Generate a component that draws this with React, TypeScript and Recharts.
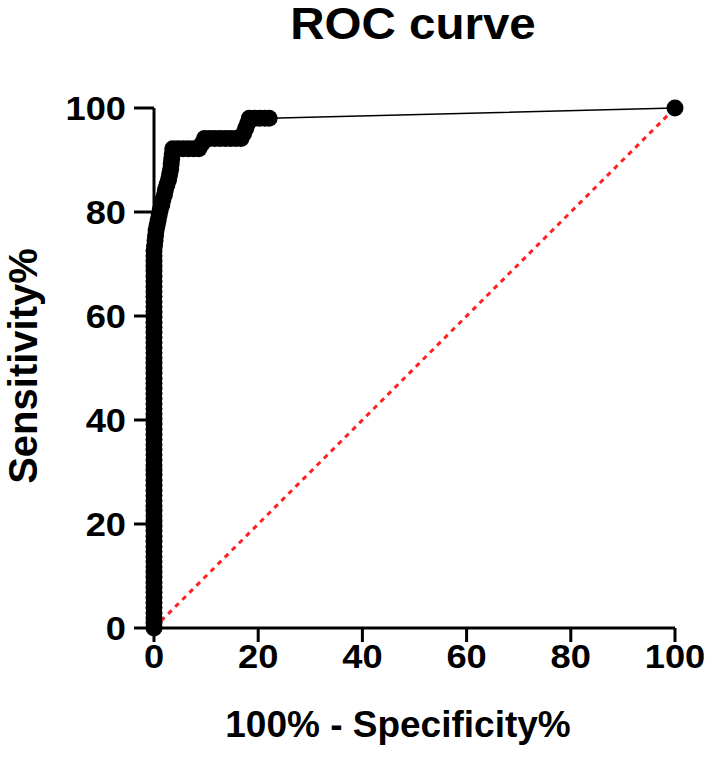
import React from 'react';
import {
  ComposedChart,
  Line,
  XAxis,
  YAxis,
  ReferenceLine,
  Label,
} from 'recharts';

// 100% - Specificity% for every threshold
const fprValues: number[] = [
  0, 0, 0, 0, 0, 0, 0, 0, 0, 0,
  0, 0, 0, 0, 0, 0, 0, 0, 0, 0,
  0, 0, 0, 0, 0, 0, 0, 0, 0, 0,
  0, 0, 0, 0, 0, 0, 0, 0, 0, 0,
  0, 0, 0, 0, 0, 0, 0, 0, 0, 0,
  0, 0, 0, 0, 0, 0, 0, 0, 0, 0,
  0, 0, 0, 0, 0, 0, 0, 0, 0, 0,
  0, 0, 0, 0, 0,
  0.1, 0.2, 0.3, 0.4, 0.6, 0.8, 1.0, 1.2, 1.5, 1.7,
  2.0, 2.2, 2.5, 2.8, 3.0, 3.2, 3.3, 3.4, 3.5,
  3.6, 4.6, 5.6, 6.6, 7.6, 8.6,
  9.2,
  9.7, 10.7, 11.7, 12.7, 13.7, 14.7, 15.7, 16.7,
  17.2, 17.6, 18.0,
  18.3, 19.3, 20.3, 21.3, 22.1,
  100,
];

// Sensitivity% for the same thresholds
const sensValues: number[] = [
  0, 0.98, 1.96, 2.94, 3.92, 4.9, 5.88, 6.86, 7.84, 8.82,
  9.8, 10.78, 11.76, 12.75, 13.73, 14.71, 15.69, 16.67, 17.65, 18.63,
  19.61, 20.59, 21.57, 22.55, 23.53, 24.51, 25.49, 26.47, 27.45, 28.43,
  29.41, 30.39, 31.37, 32.35, 33.33, 34.31, 35.29, 36.27, 37.25, 38.24,
  39.22, 40.2, 41.18, 42.16, 43.14, 44.12, 45.1, 46.08, 47.06, 48.04,
  49.02, 50.0, 50.98, 51.96, 52.94, 53.92, 54.9, 55.88, 56.86, 57.84,
  58.82, 59.8, 60.78, 61.76, 62.75, 63.73, 64.71, 65.69, 66.67, 67.65,
  68.63, 69.61, 70.59, 71.57, 72.55,
  73.53, 74.51, 75.49, 76.47, 77.45, 78.43, 79.41, 80.39, 81.37, 82.35,
  83.33, 84.31, 85.29, 86.27, 87.25, 88.24, 89.22, 90.2, 91.18,
  92.16, 92.16, 92.16, 92.16, 92.16, 92.16,
  93.14,
  94.12, 94.12, 94.12, 94.12, 94.12, 94.12, 94.12, 94.12,
  95.1, 96.08, 97.06,
  98.04, 98.04, 98.04, 98.04, 98.04,
  100,
];

const axisTicks = [0, 20, 40, 60, 80, 100];

const rocData = fprValues.map((fpr, i) => ({ fpr, sens: sensValues[i] }));

const FONT = '"Liberation Sans", Arial, Helvetica, sans-serif';

// tick text in the original is a little wider than Arial, so stretch it
const StretchTick = (props: any) => {
  const { x, y, payload, textAnchor, dy } = props;
  return (
    <text
      transform={`translate(${x},${y}) scale(1.1,1)`}
      textAnchor={textAnchor}
      dy={dy}
      fontFamily={FONT}
      fontWeight={700}
      fontSize={33}
      fill="#000"
    >
      {payload.value}
    </text>
  );
};

export default function App() {
  return (
    <div style={{ position: 'absolute', left: 0, top: 0, width: 709, height: 774, background: '#fff' }}>
      <div
        style={{
          position: 'absolute',
          left: 0,
          top: 0,
          width: 826,
          textAlign: 'center',
          fontFamily: FONT,
          fontWeight: 700,
          fontSize: 44,
          lineHeight: '48px',
          color: '#000',
          transform: 'scaleX(1.08)',
        }}
      >
        ROC curve
      </div>
      <ComposedChart
        width={709}
        height={774}
        data={rocData}
        margin={{ top: 108, right: 34, bottom: 66, left: 0 }}
      >
        <XAxis
          dataKey="fpr"
          type="number"
          domain={[0, 100]}
          ticks={axisTicks}
          height={80}
          tickSize={14}
          tickMargin={3}
          axisLine={{ stroke: '#000', strokeWidth: 3 }}
          tickLine={{ stroke: '#000', strokeWidth: 3 }}
          tick={<StretchTick dy="0.71em" />}
        >
          <Label
            content={() => (
              <text x={398} y={737} textAnchor="middle" fontFamily={FONT} fontWeight={700} fontSize={37} fill="#000">
                100% - Specificity%
              </text>
            )}
          />
        </XAxis>
        <YAxis
          type="number"
          domain={[0, 100]}
          ticks={axisTicks}
          width={154}
          tickSize={20}
          tickMargin={8}
          axisLine={{ stroke: '#000', strokeWidth: 3 }}
          tickLine={{ stroke: '#000', strokeWidth: 3 }}
          tick={<StretchTick dy="0.355em" />}
        >
          <Label
            content={() => (
              <text
                x={37}
                y={366}
                transform="rotate(-90 37 366)"
                textAnchor="middle"
                fontFamily={FONT}
                fontWeight={700}
                fontSize={40}
                fill="#000"
              >
                Sensitivity%
              </text>
            )}
          />
        </YAxis>
        <ReferenceLine
          segment={[{ x: 0, y: 0 }, { x: 100, y: 100 }]}
          stroke="#ff2020"
          strokeWidth={3}
          strokeDasharray="5 5"
        />
        <Line
          dataKey="sens"
          stroke="#000"
          strokeWidth={1.5}
          dot={{ r: 8.5, fill: '#000', stroke: '#000', strokeWidth: 0 }}
          activeDot={false}
          isAnimationActive={false}
        />
      </ComposedChart>
    </div>
  );
}
